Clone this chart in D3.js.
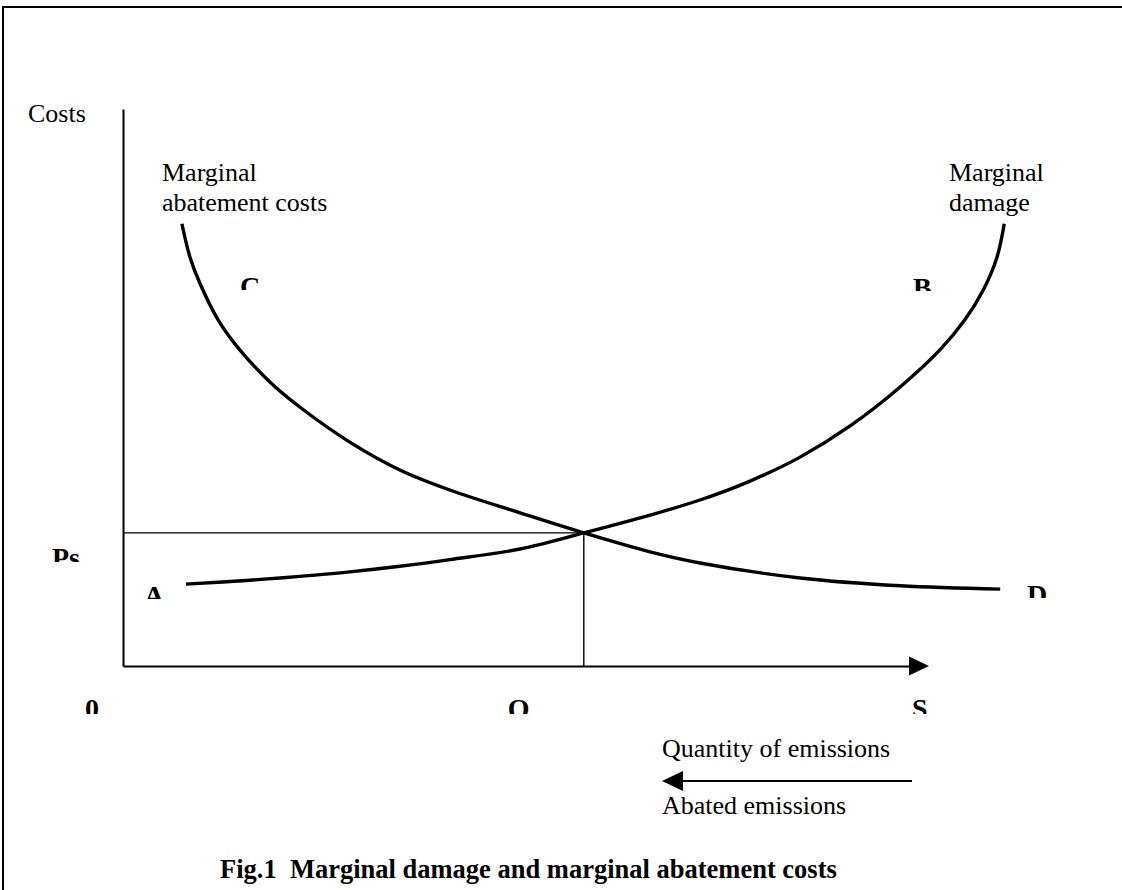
<!DOCTYPE html>
<html>
<head>
<meta charset="utf-8">
<script src="https://cdn.jsdelivr.net/npm/d3@7/dist/d3.min.js"></script>
<style>
  body { margin: 0; background: #fff; }
  svg { display: block; font-family: "Liberation Serif", "Times New Roman", serif; }
</style>
</head>
<body>
<svg id="chart"></svg>
<script>
// values (x = emissions, y = costs, axis runs 0..100)
const macX = [7.3, 8.3, 9.5, 11.8, 14.5, 18.2, 21.9, 28.1, 34.3, 40.5, 49.2, 57.1, 65.3, 71.5, 83.9, 96.3, 108.7];
const macY = [79.4, 73.4, 68.8, 62.1, 56.7, 51.0, 46.5, 40.2, 35.2, 31.6, 27.5, 23.9, 20.5, 18.5, 15.8, 14.4, 13.8];
const mdX = [7.8, 15.7, 21.9, 28.1, 34.3, 40.5, 49.2, 57.1, 65.3, 71.5, 77.7, 83.9, 90.1, 96.3, 101.2, 104.3, 106.6, 108.3, 109.2];
const mdY = [14.7, 15.4, 16.1, 16.9, 17.9, 19.1, 21.0, 23.9, 27.1, 29.8, 33.2, 37.5, 43.1, 50.1, 56.7, 62.1, 67.5, 73.4, 79.4];

const eqX = 57.1;   // Q
const eqY = 23.9;   // Ps

const xTickValues = [0, eqX, 100];
const xTickLabels = ['0', 'Q', 'S'];
const yTickValues = [eqY];
const yTickLabels = ['Ps'];

const pointLabels = ['C', 'B', 'A', 'D'];

const width = 1122;
const height = 890;

const svg = d3.select('#chart')
  .attr('width', width)
  .attr('height', height);

// page frame (runs off the right and bottom edge)
svg.append('rect')
  .attr('x', 3).attr('y', 7)
  .attr('width', 1140).attr('height', 900)
  .attr('fill', 'none').attr('stroke', '#000').attr('stroke-width', 2);

const x = d3.scaleLinear().domain([0, 100]).range([123, 930]);
const y = d3.scaleLinear().domain([0, 100]).range([666, 109]);

// axes: only the lines, labels are placed by hand below
svg.append('g')
  .attr('transform', `translate(${x(0)},0)`)
  .call(d3.axisLeft(y).tickValues([]).tickSizeOuter(0))
  .select('.domain').attr('stroke-width', 2);

svg.append('g')
  .attr('transform', `translate(0,${y(0)})`)
  .call(d3.axisBottom(x.copy().range([123, 910])).tickValues([]).tickSizeOuter(0))
  .select('.domain').attr('stroke-width', 2.2);

svg.append('path')
  .attr('d', `M${x(100) - 21},${y(0) - 9.5}L${x(100) - 1},${y(0)}L${x(100) - 21},${y(0) + 9.5}Z`)
  .attr('fill', '#000');

// equilibrium guide lines
svg.append('path')
  .attr('d', `M${x(0)},${y(eqY)}H${x(eqX)}V${y(0)}`)
  .attr('fill', 'none').attr('stroke', '#000').attr('stroke-width', 1.4);

const line = d3.line()
  .x(d => x(d[0]))
  .y(d => y(d[1]))
  .curve(d3.curveCatmullRom.alpha(0.5));

const mac = macX.map((v, i) => [v, macY[i]]);
const md = mdX.map((v, i) => [v, mdY[i]]);

svg.selectAll('path.curve')
  .data([mac, md])
  .enter()
  .append('path')
  .attr('class', 'curve')
  .attr('d', line)
  .attr('fill', 'none')
  .attr('stroke', '#000')
  .attr('stroke-width', 3.4);

// plain text
const plain = svg.append('g').attr('font-size', 26).attr('fill', '#000');
plain.append('text').attr('x', 28).attr('y', 122).text('Costs');

const macLabel = plain.append('text').attr('x', 162).attr('y', 181);
macLabel.append('tspan').text('Marginal');
macLabel.append('tspan').attr('x', 162).attr('dy', 30).text('abatement costs');

const mdLabel = plain.append('text').attr('x', 949).attr('y', 181);
mdLabel.append('tspan').text('Marginal');
mdLabel.append('tspan').attr('x', 949).attr('dy', 30).text('damage');

plain.append('text').attr('x', 662).attr('y', 757).text('Quantity of emissions');
plain.append('text').attr('x', 662).attr('y', 814).text('Abated emissions');

// abated emissions arrow (pointing left)
svg.append('line')
  .attr('x1', 680).attr('x2', 912)
  .attr('y1', 781).attr('y2', 781)
  .attr('stroke', '#000').attr('stroke-width', 2);
svg.append('path')
  .attr('d', 'M662,781L683,771L683,791Z')
  .attr('fill', '#000');

// caption
svg.append('text')
  .attr('x', 220).attr('y', 878)
  .attr('font-size', 26.5).attr('font-weight', 'bold')
  .attr('xml:space', 'preserve')
  .style('white-space', 'pre')
  .text('Fig.1  Marginal damage and marginal abatement costs');

// bold letters sit in boxes that are too short, so only their tops show
const defs = svg.append('defs');
function cutLetter(txt, left, top, keep, id) {
  defs.append('clipPath').attr('id', id)
    .append('rect')
    .attr('x', left - 5).attr('y', top - 8)
    .attr('width', 60).attr('height', keep + 8);
  svg.append('text')
    .attr('x', left).attr('y', top + 18.5)
    .attr('font-size', 28).attr('font-weight', 'bold')
    .attr('clip-path', `url(#${id})`)
    .text(txt);
}

const letterLeft = [240, 913, 144, 1027];
const letterTop = [277, 278, 586, 585];
pointLabels.forEach((t, i) => cutLetter(t, letterLeft[i], letterTop[i], 13, 'pl' + i));

const xLabelShift = [-38, -76, -18];
xTickLabels.forEach((t, i) => cutLetter(t, x(xTickValues[i]) + xLabelShift[i], 699, 15, 'xl' + i));

yTickLabels.forEach((t, i) => cutLetter(t, 52, y(yTickValues[i]) + 16, 13, 'yl' + i));
</script>
</body>
</html>
